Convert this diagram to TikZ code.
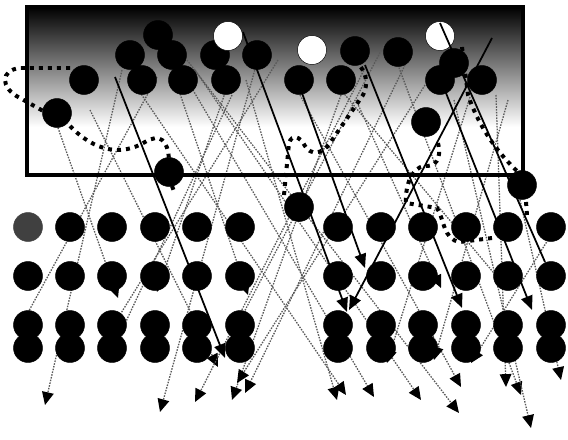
\documentclass[tikz,border=0pt]{standalone}
\usetikzlibrary{arrows.meta}
\tikzset{
  ball/.style={circle,fill=black,draw=black,line width=0.4pt,inner sep=0pt,minimum size=0.87cm},
  hollow/.style={ball,fill=white},
  greyball/.style={ball,fill=black!75,draw=black!75},
  ray/.style={draw=black!65,line width=1.1pt,dash pattern=on 1.3pt off 1.1pt,
    -{Triangle[length=11pt,width=10pt,color=black,fill=black]}},
  beam/.style={draw=black,line width=1.5pt,
    -{Triangle[length=12pt,width=10pt,color=black,fill=black]}},
  trail/.style={draw=black,line width=3.4pt,dash pattern=on 3.4pt off 4.3pt}
}
\begin{document}
\begin{tikzpicture}[x=0.03cm,y=-0.03cm]
      \fill[white] (0,0) rectangle (568,439);
      \useasboundingbox (0,0) rectangle (568,439);
      \shade[top color=black,bottom color=white] (27,7) rectangle (523,127);
      \path
        (122,70) coordinate (r1a)  (45,405) coordinate (r1b)
        (157,77) coordinate (r2a)  (25,318) coordinate (r2b)
        (57,125) coordinate (r3a)  (118,298) coordinate (r3b)
        (226,90) coordinate (r4a)  (157,292) coordinate (r4b)
        (257,62) coordinate (r5a)  (160,412) coordinate (r5b)
        (232,95) coordinate (r6a)  (107,362) coordinate (r6b)
        (187,60) coordinate (r7a)  (459,413) coordinate (r7b)
        (341,95) coordinate (r8a)  (232,400) coordinate (r8b)
        (172,70) coordinate (r9a)  (248,295) coordinate (r9b)
        (90,110) coordinate (r10a) (218,367) coordinate (r10b)
        (195,70) coordinate (r11a) (421,400) coordinate (r11b)
        (190,85) coordinate (r12a) (374,397) coordinate (r12b)
        (135,85) coordinate (r13a) (346,395) coordinate (r13b)
        (405,65) coordinate (r14a) (245,393) coordinate (r14b)
        (365,68) coordinate (r15a) (195,402) coordinate (r15b)
        (425,85) coordinate (r16a) (237,383) coordinate (r16b)
        (300,95) coordinate (r17a) (461,387) coordinate (r17b)
        (341,90) coordinate (r18a) (508,290) coordinate (r18b)
        (398,65) coordinate (r19a) (521,395) coordinate (r19b)
        (454,100) coordinate (r20a) (531,428) coordinate (r20b)
        (520,200) coordinate (r21a) (561,380) coordinate (r21b)
        (246,80) coordinate (r22a) (337,400) coordinate (r22b)
        (356,100) coordinate (r23a) (441,288) coordinate (r23b)
        (384,45) coordinate (r24a) (241,318) coordinate (r24b)
        (470,97) coordinate (r25a) (387,363) coordinate (r25b)
        (508,100) coordinate (r26a) (434,360) coordinate (r26b)
        (551,235) coordinate (r27a) (471,363) coordinate (r27b)
        (496,95) coordinate (r28a) (506,387) coordinate (r28b)
        (278,60) coordinate (r29a) (118,318) coordinate (r29b)
        (115,77) coordinate (b1a) (225,358) coordinate (b1b)
        (243,32) coordinate (b2a) (347,312) coordinate (b2b)
        (302,93) coordinate (b3a) (365,268) coordinate (b3b)
        (365,65) coordinate (b4a) (462,308) coordinate (b4b)
        (446,93) coordinate (b5a) (532,310) coordinate (b5b)
        (492,38) coordinate (b6a) (349,310) coordinate (b6b)
        (440,23) coordinate (b7a) (545,262) coordinate (b7b);
      \begin{scope}[ray]
        \draw (r1a) to (r1b);
        \draw[-] (r2a) to (r2b);
        \draw (r3a) to (r3b);
        \draw (r4a) to (r4b);
        \draw (r5a) to (r5b);
        \draw (r6a) to (r6b);
        \draw (r7a) to (r7b);
        \draw (r8a) to (r8b);
        \draw (r9a) to (r9b);
        \draw (r10a) to (r10b);
        \draw (r11a) to (r11b);
        \draw (r12a) to (r12b);
        \draw (r13a) to (r13b);
        \draw (r14a) to (r14b);
        \draw (r15a) to (r15b);
        \draw (r16a) to (r16b);
        \draw (r17a) to (r17b);
        \draw[-] (r18a) to (r18b);
        \draw (r19a) to (r19b);
        \draw (r20a) to (r20b);
        \draw (r21a) to (r21b);
        \draw (r22a) to (r22b);
        \draw (r23a) to (r23b);
        \draw[-] (r24a) to (r24b);
        \draw (r25a) to (r25b);
        \draw (r26a) to (r26b);
        \draw (r27a) to (r27b);
        \draw (r28a) to (r28b);
        \draw[-] (r29a) to (r29b);
      \end{scope}
      \draw[line width=2.6pt] (27,7) rectangle (523,175);
      \draw[trail] (70,68) -- (20,68) .. controls (0,70) and (0,88) .. (20,98) -- (45,112);
      \draw[trail] (70,126) .. controls (95,152) and (122,156) .. (145,142)
        .. controls (160,133) and (168,140) .. (169,160);
      \draw[trail] (172,186) -- (175,194);
      \draw[trail] (284,195) -- (289,143) .. controls (292,134) and (300,136) .. (305,146)
        .. controls (310,155) and (322,155) .. (330,143) -- (363,95)
        .. controls (368,85) and (367,75) .. (360,66);
      \draw[trail] (462,47) -- (468,95) .. controls (480,130) and (500,155) .. (518,172);
      \draw[trail] (526,202) -- (527,215);
      \draw[trail] (438,143) .. controls (442,160) and (435,167) .. (424,166)
        .. controls (412,168) and (405,185) .. (406,203) -- (437,208)
        .. controls (444,218) and (443,240) .. (460,242) -- (492,238);
      \path
        (158,35) node[ball] (t1) {}
        (130,55) node[ball] (t2) {}
        (172,55) node[ball] (t3) {}
        (215,55) node[ball] (t4) {}
        (228,36) node[hollow] (w1) {}
        (257,55) node[ball] (t5) {}
        (84,80) node[ball] (t6) {}
        (142,80) node[ball] (t7) {}
        (183,80) node[ball] (t8) {}
        (226,80) node[ball] (t9) {}
        (57,113) node[ball] (t10) {}
        (169,172) node[ball] (t11) {}
        (312,50) node[hollow] (w2) {}
        (355,51) node[ball] (t12) {}
        (398,52) node[ball] (t13) {}
        (454,63) node[ball] (t14) {}
        (440,36) node[hollow] (w3) {}
        (299,80) node[ball] (t15) {}
        (341,80) node[ball] (t16) {}
        (440,80) node[ball] (t17) {}
        (482,80) node[ball] (t18) {}
        (426,122) node[ball] (t19) {}
        (522,185) node[ball] (t20) {}
        (299,207) node[ball] (t21) {};
      \path
        (28,227) node[greyball] (l11) {} (70,227) node[ball] (l12) {}
        (112,227) node[ball] (l13) {} (155,227) node[ball] (l14) {}
        (197,227) node[ball] (l15) {} (240,227) node[ball] (l16) {}
        (28,276) node[ball] (l21) {} (70,276) node[ball] (l22) {}
        (112,276) node[ball] (l23) {} (155,276) node[ball] (l24) {}
        (197,276) node[ball] (l25) {} (240,276) node[ball] (l26) {}
        (28,325) node[ball] (l31) {} (70,325) node[ball] (l32) {}
        (112,325) node[ball] (l33) {} (155,325) node[ball] (l34) {}
        (197,325) node[ball] (l35) {} (240,325) node[ball] (l36) {}
        (28,348) node[ball] (l41) {} (70,348) node[ball] (l42) {}
        (112,348) node[ball] (l43) {} (155,348) node[ball] (l44) {}
        (197,348) node[ball] (l45) {} (240,348) node[ball] (l46) {}
        (338,227) node[ball] (q11) {} (381,227) node[ball] (q12) {}
        (423,227) node[ball] (q13) {} (466,227) node[ball] (q14) {}
        (508,227) node[ball] (q15) {} (551,227) node[ball] (q16) {}
        (338,276) node[ball] (q21) {} (381,276) node[ball] (q22) {}
        (423,276) node[ball] (q23) {} (466,276) node[ball] (q24) {}
        (508,276) node[ball] (q25) {} (551,276) node[ball] (q26) {}
        (338,325) node[ball] (q31) {} (381,325) node[ball] (q32) {}
        (423,325) node[ball] (q33) {} (466,325) node[ball] (q34) {}
        (508,325) node[ball] (q35) {} (551,325) node[ball] (q36) {}
        (338,348) node[ball] (q41) {} (381,348) node[ball] (q42) {}
        (423,348) node[ball] (q43) {} (466,348) node[ball] (q44) {}
        (508,348) node[ball] (q45) {} (551,348) node[ball] (q46) {};
      \begin{scope}[beam]
        \draw (b1a) to (b1b);
        \draw (b2a) to (b2b);
        \draw (b3a) to (b3b);
        \draw (b4a) to (b4b);
        \draw (b5a) to (b5b);
        \draw (b6a) to (b6b);
        \draw[-] (b7a) to (b7b);
      \end{scope}
    \end{tikzpicture}
\end{document}
